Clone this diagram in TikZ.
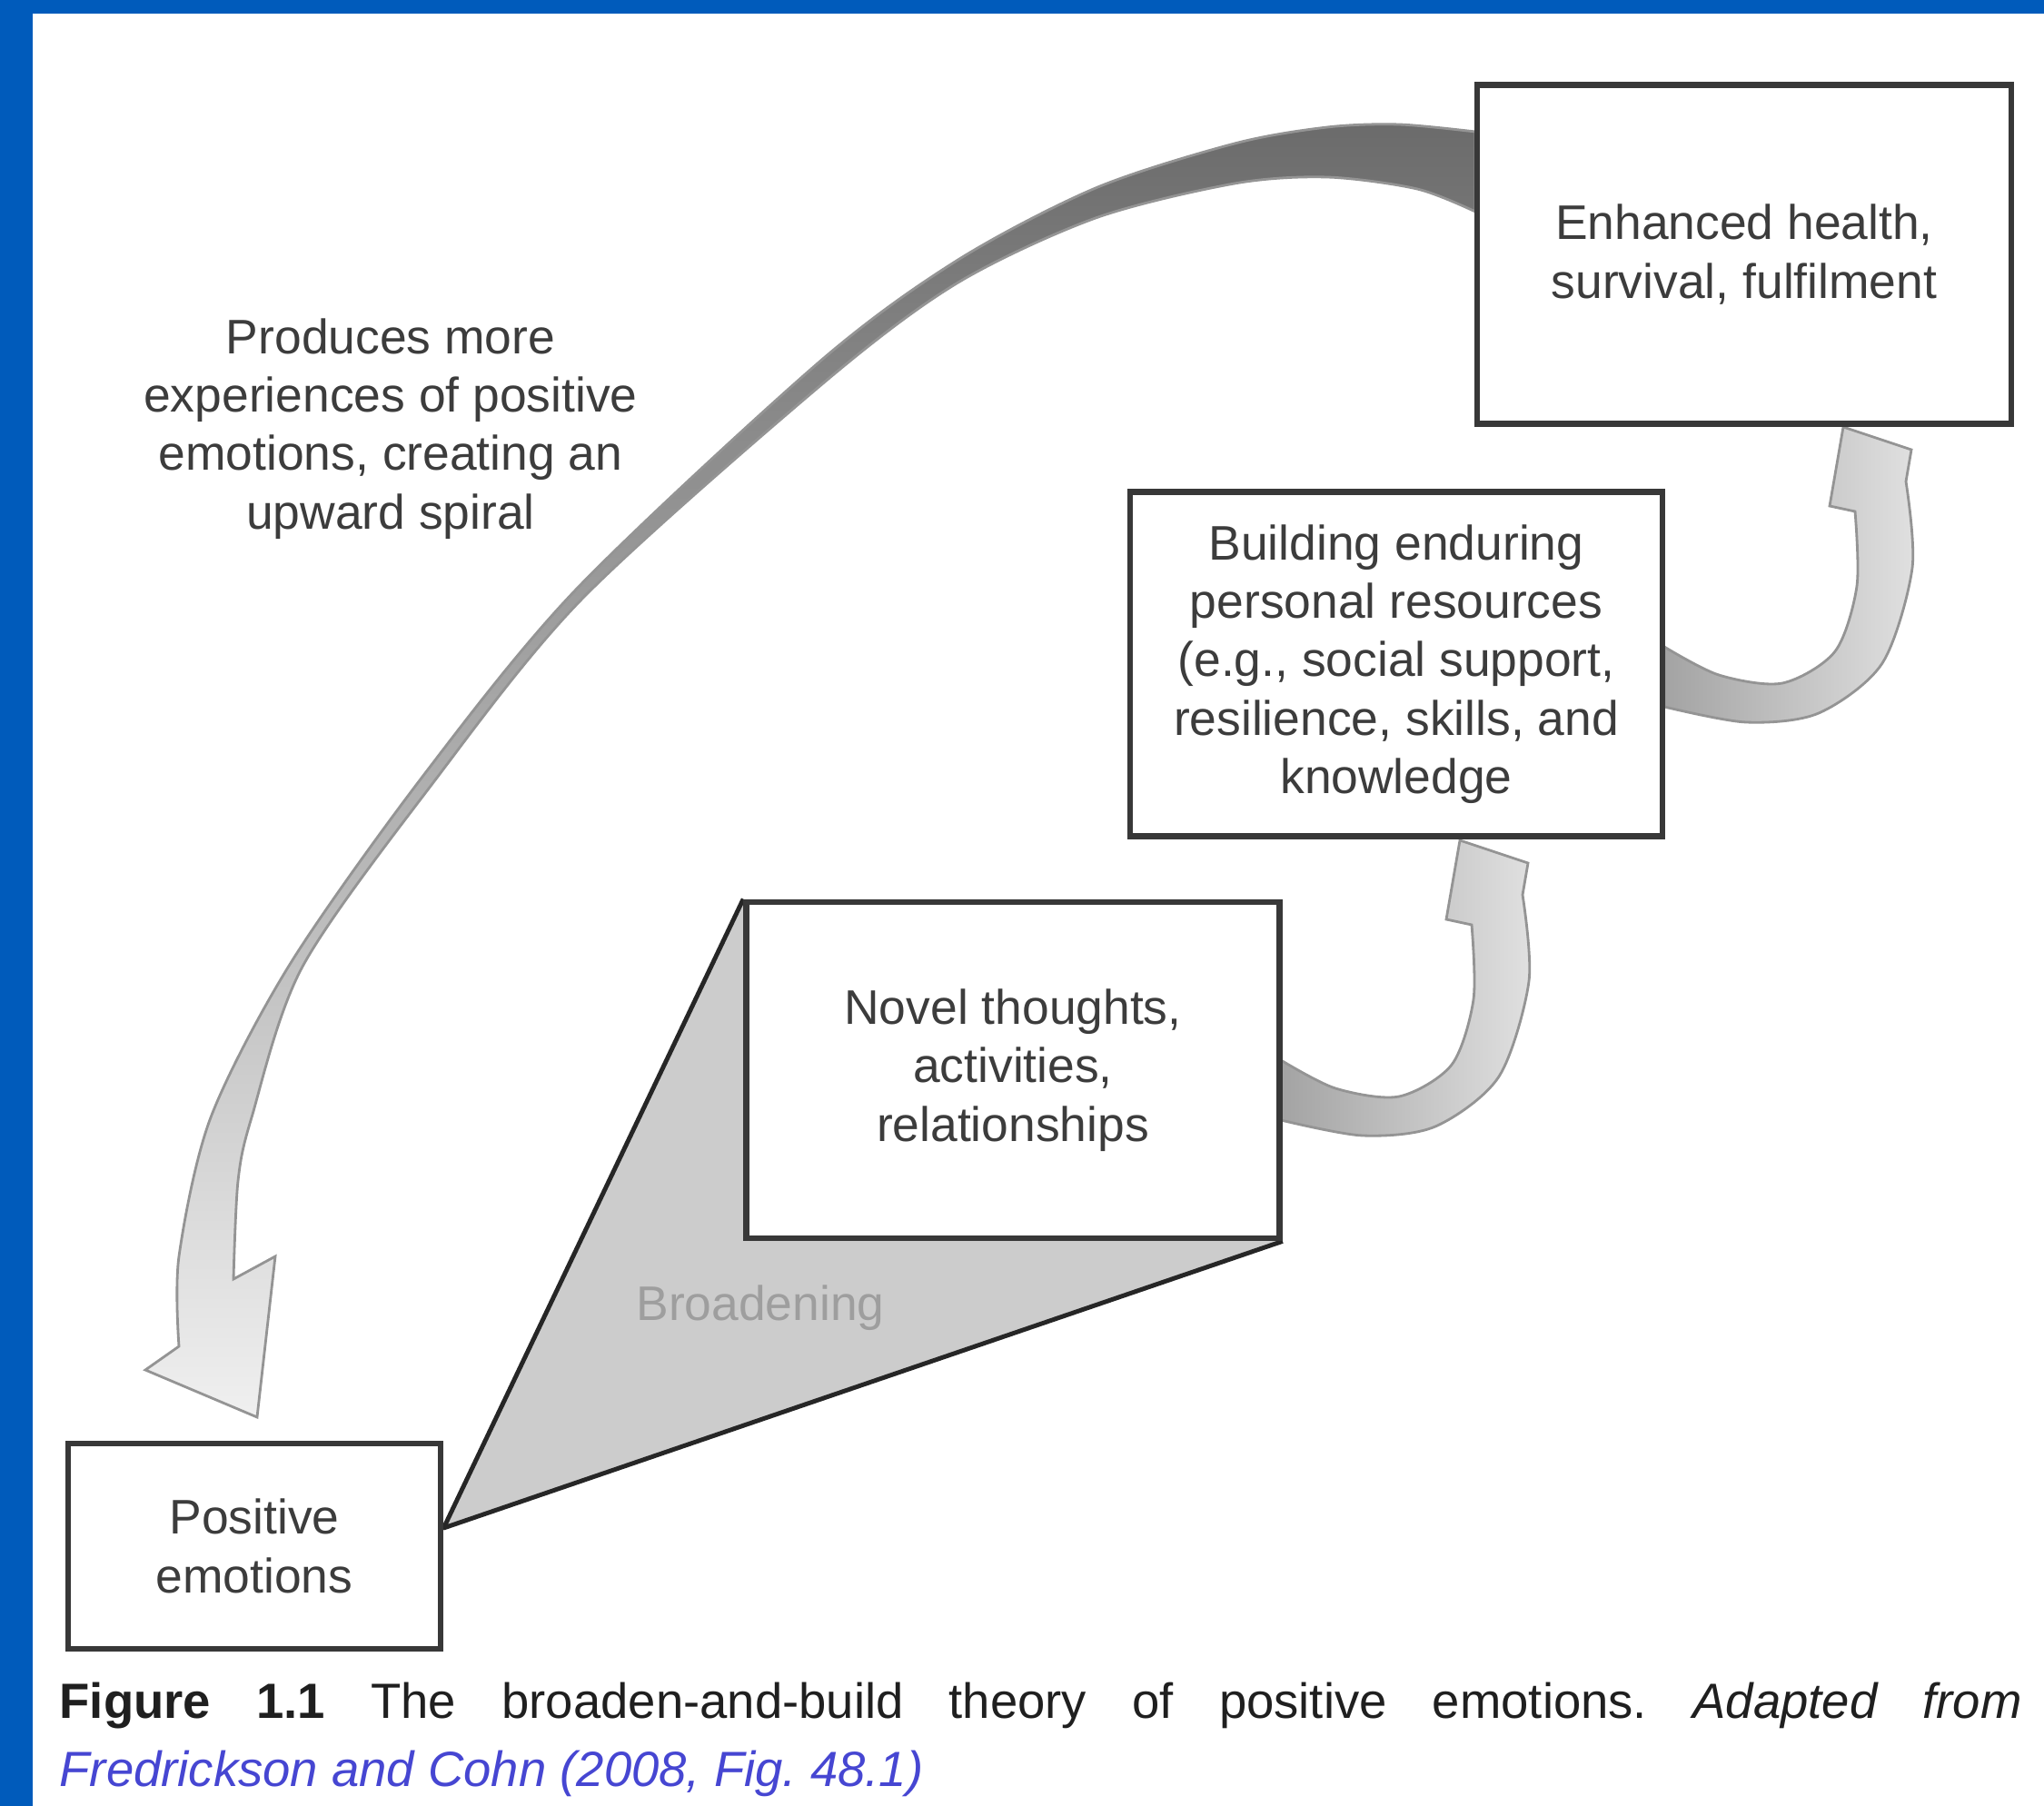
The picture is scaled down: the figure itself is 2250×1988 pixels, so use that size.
\documentclass[tikz,border=0pt]{standalone}
\usepackage{fontspec}
\setmainfont{Liberation Sans}
\usetikzlibrary{backgrounds}
\definecolor{bbblue}{HTML}{005BBB}
\definecolor{bblink}{HTML}{4646D2}
\definecolor{bbtext}{HTML}{3C3C3C}
\newcommand{\stagefont}{\fontsize{15.2}{18.3}\selectfont}
\newcommand{\capfont}{\fontsize{15.5}{18}\selectfont}
\frenchspacing
\tikzset{
  stage/.style={rectangle, draw=black!78, line width=1.9pt, fill=white, align=center,
    font=\stagefont, text=bbtext, inner sep=4pt},
  note/.style={align=center, font=\stagefont, text=bbtext},
  bigarrow/.style={draw=black!42, line width=0.8pt, top color=black!58, bottom color=black!6},
  smallarrow/.style={draw=black!42, line width=0.8pt, left color=black!36, right color=black!12},
  wedge/.style={draw=black!85, line width=1.4pt, line join=round},
}

\begin{document}
\begin{tikzpicture}[x=0.1mm, y=-0.1mm]
  \useasboundingbox (0,0) rectangle (2250,1988);
  % stages of the spiral
  \node[stage, minimum width=5.88cm, minimum height=3.73cm] (health) at (1920,280) {Enhanced health,\\survival, fulfilment};
  \node[stage, minimum width=5.86cm, minimum height=3.79cm] (build) at (1537,731) {Building enduring\\personal resources\\(e.g., social support,\\resilience, skills, and\\knowledge};
  \node[stage, minimum width=5.87cm, minimum height=3.70cm] (novel) at (1115,1178) {Novel thoughts,\\activities,\\relationships};
  \node[stage, minimum width=4.10cm, minimum height=2.26cm] (posemo) at (280,1702) {Positive\\emotions};
  \node[note] (spiral) at (430,472) {Produces more\\experiences of positive\\emotions, creating an\\upward spiral};
  \node[text=black!38, font=\stagefont] (broadlbl) at (837,1440) {Broadening};
  \coordinate (apex) at ([yshift=2mm]posemo.east);

  \begin{scope}[on background layer]
    \fill[white] (0,0) rectangle (2250,1988);
    \fill[bbblue] (0,0) rectangle (2250,15);
    \fill[bbblue] (0,0) rectangle (36,1988);
    % broadening wedge
    \fill[black!20] (apex) -- (novel.north west) -- (novel.south east) -- cycle;
    \draw[wedge] (novel.north west) -- (apex) -- (novel.south east);
    % big feedback arrow
    \path[bigarrow] (1624,145) -- plot[smooth] coordinates {(1624,145) (1540,137) (1461,140) (1359,158)
        (1206,207) (1053,287) (900,400) (633,650) (465,855) (320,1060) (232,1230) (197,1383) (197,1482)}
      -- (160,1508) -- (283,1560) -- (303,1383) -- (257,1408)
      -- plot[smooth] coordinates {(257,1408) (262,1300) (277,1230) (333,1064) (475,864) (640,660)
        (906,422) (1053,312) (1206,240) (1359,202) (1461,195) (1560,208) (1624,233)} -- cycle;
    % small curved arrows
    \foreach \dx/\dy in {0/0, 422/-455}
      \path[smallarrow, shift={(\dx,\dy)}] (1410,1167)
        -- plot[smooth] coordinates {(1410,1167) (1470,1198) (1540,1207) (1598,1172) (1622,1100) (1620,1018)}
        -- (1592,1012) -- (1607,925) -- (1682,950) -- (1676,985)
        -- plot[smooth] coordinates {(1676,985) (1683,1080) (1650,1185) (1580,1240) (1500,1250) (1410,1233)}
        -- cycle;
  \end{scope}

  % caption
  \node[anchor=base west, inner sep=0pt, font=\capfont, text=black!88] (cap) at (65,1891)
    {\makebox[21.6cm][s]{\textbf{Figure 1.1} The broaden-and-build theory of positive emotions. \textit{Adapted from}}};
  \node[anchor=base west, inner sep=0pt, font=\capfont, text=bblink] (src) at (65,1966)
    {\textit{Fredrickson and Cohn (2008, Fig. 48.1)}};
\end{tikzpicture}
\end{document}
